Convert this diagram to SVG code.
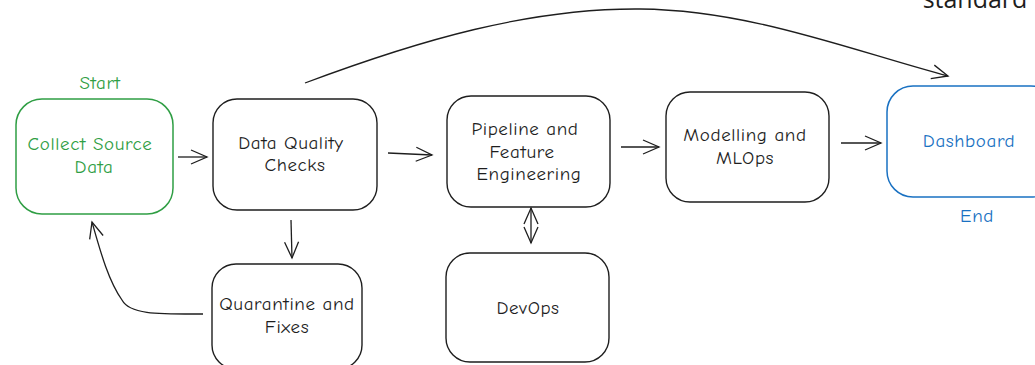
<svg xmlns="http://www.w3.org/2000/svg" width="1035" height="365" viewBox="0 0 1035 365">
<defs>
<style>
.box{fill:none;stroke:#1e1e1e;stroke-width:1.4}
.t{font-family:"Comic Neue","Lato","Liberation Sans",sans-serif;font-size:19px;letter-spacing:0.6px;fill:#1e1e1e;text-anchor:middle;dominant-baseline:central}
.g{fill:#2f9e44}
.b{fill:#1971c2}
.c{fill:none;stroke:#1e1e1e;stroke-width:1.3}
</style>
<marker id="ah" viewBox="0 0 20 20" refX="18" refY="10" markerWidth="20" markerHeight="20" markerUnits="userSpaceOnUse" orient="auto-start-reverse">
<path d="M2,3 L18,10 L2,17" fill="none" stroke="#1e1e1e" stroke-width="1.3"/>
</marker>
</defs>
<rect width="1035" height="365" fill="#ffffff"/>
<text x="975" y="8" font-family="'Open Sans','Noto Sans',sans-serif" font-size="25" fill="#1e1e1e" text-anchor="middle">standard</text>

<g id="collect">
<rect x="16" y="99" width="157" height="115" rx="26" fill="none" stroke="#2f9e44" stroke-width="1.5"/>
<text class="t g" x="90" y="144">Collect Source</text>
<text class="t g" x="94" y="167">Data</text>
<text class="t g" x="100" y="83">Start</text>
</g>
<g id="dq">
<rect class="box" x="213" y="99" width="164" height="111" rx="24"/>
<text class="t" x="291" y="143">Data Quality</text>
<text class="t" x="295" y="165">Checks</text>
</g>
<g id="quarantine">
<rect class="box" x="212" y="264" width="150" height="105" rx="24"/>
<text class="t" x="287" y="304">Quarantine and</text>
<text class="t" x="287" y="327">Fixes</text>
</g>
<g id="pipeline">
<rect class="box" x="447" y="96" width="163" height="111" rx="24"/>
<text class="t" x="525" y="129">Pipeline and</text>
<text class="t" x="522" y="152">Feature</text>
<text class="t" x="529" y="174">Engineering</text>
</g>
<g id="devops">
<rect class="box" x="446" y="253" width="163" height="109" rx="24"/>
<text class="t" x="528" y="308">DevOps</text>
</g>
<g id="modelling">
<rect class="box" x="666" y="92" width="163" height="110" rx="24"/>
<text class="t" x="745" y="135">Modelling and</text>
<text class="t" x="745" y="158">MLOps</text>
</g>
<g id="dashboard">
<rect x="887" y="86" width="170" height="111" rx="26" fill="none" stroke="#1971c2" stroke-width="1.5"/>
<text class="t b" x="969" y="141">Dashboard</text>
<text class="t b" x="977" y="216">End</text>
</g>

<g id="connectors">
<path class="c" d="M178,157 L207,157" marker-end="url(#ah)"/>
<path class="c" d="M388,153 L432,155" marker-end="url(#ah)"/>
<path class="c" d="M621,147 L659,147" marker-end="url(#ah)"/>
<path class="c" d="M841,143 L881,143" marker-end="url(#ah)"/>
<path class="c" d="M291,220 L292,258" marker-end="url(#ah)"/>
<path class="c" d="M531,208 L531,243" marker-start="url(#ah)" marker-end="url(#ah)"/>
<path class="c" d="M203,314 C160,314 130,315 122,300 C108,280 100,250 92,222" marker-end="url(#ah)"/>
<path class="c" d="M305,83 C420,40 530,8 640,9 C750,10 850,50 948,76" marker-end="url(#ah)"/>
</g>
</svg>
